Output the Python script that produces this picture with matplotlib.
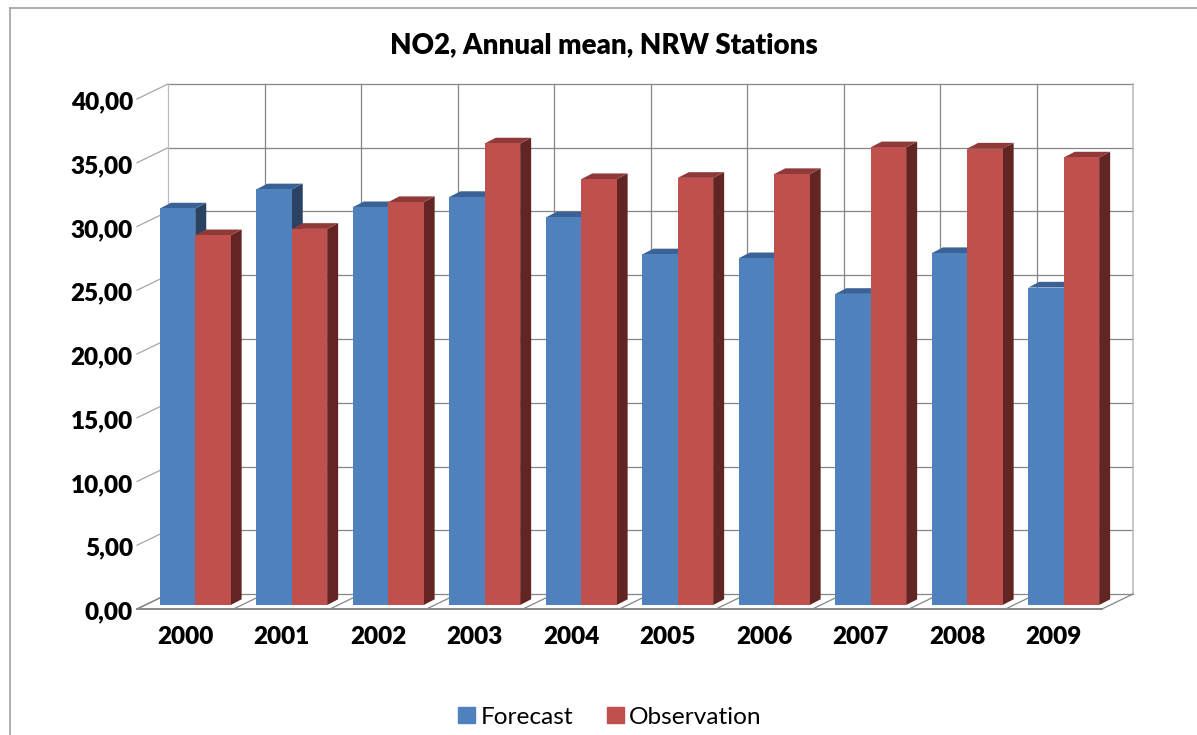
import matplotlib
matplotlib.use("Agg")
import matplotlib.pyplot as plt
from matplotlib.patches import Polygon, Patch
from matplotlib.lines import Line2D
from matplotlib.transforms import Affine2D

years = ["2000", "2001", "2002", "2003", "2004", "2005", "2006", "2007", "2008", "2009"]
forecast = [31.1, 32.6, 31.2, 32.0, 30.4, 27.5, 27.2, 24.4, 27.6, 24.9]
observation = [29.0, 29.5, 31.6, 36.2, 33.4, 33.5, 33.8, 35.9, 35.8, 35.1]
yticks = [0, 5, 10, 15, 20, 25, 30, 35, 40]
ylabels = ["0,00", "5,00", "10,00", "15,00", "20,00", "25,00", "30,00", "35,00", "40,00"]

W, H = 1197, 735
plt.rcParams['font.family'] = ['Lato', 'DejaVu Sans']
fig = plt.figure(figsize=(W / 100, H / 100), dpi=100)

# front floor plane in pixels
L, R, B, T = 137.0, 1102.0, 609.0, 99.0
ax = fig.add_axes([L / W, 1 - B / H, (R - L) / W, (B - T) / H])
ax.set_xlim(-0.5, 9.5)
ax.set_ylim(0, 40)
for s in ax.spines.values():
    s.set_visible(False)
ax.patch.set_visible(False)

px = 10 / (R - L)       # category units per pixel
py = 40 / (B - T)       # value units per pixel
wall_dx, wall_dy = 31 * px, 15 * py
bar_dx, bar_lift = 10.0 * px, 4 * py
depth_dx, depth_dy = 11 * px, 5.7 * py
bar_w = 35.4 * px

GRID = "#868686"
LIGHT = "#BDBDBD"

# back wall and floor
x_edges = [i - 0.5 for i in range(11)]
for y in yticks:
    ax.plot([-0.5, -0.5 + wall_dx], [y, y + wall_dy], color=GRID if y == 0 else "#A6A6A6", lw=0.9, clip_on=False, zorder=1)
    ax.plot([-0.5 + wall_dx, 9.5 + wall_dx], [y + wall_dy, y + wall_dy], color=GRID, lw=0.9, clip_on=False, zorder=1)
for x in x_edges:
    ax.plot([x + wall_dx, x + wall_dx], [wall_dy, 40 + wall_dy],
            color=LIGHT if x in (-0.5, 9.5) else GRID, lw=1.2 if x == 9.5 else 0.9, clip_on=False, zorder=1)
    ax.plot([x, x + wall_dx], [0, wall_dy], color=GRID, lw=0.9, clip_on=False, zorder=1)
ax.plot([-0.5, 9.5], [0, 0], color=GRID, lw=1.4, clip_on=False, zorder=1)


def draw_bar(x0, v, face, side, top, z):
    x1 = x0 + bar_w
    y0, y1 = bar_lift, v + bar_lift
    ax.bar(x0, v, width=bar_w, bottom=y0, align="edge", color=face, lw=0, zorder=z + 0.3, clip_on=False)
    ax.add_patch(Polygon([(x1, y0), (x1 + depth_dx, y0 + depth_dy), (x1 + depth_dx, y1 + depth_dy), (x1, y1)],
                         closed=True, fc=side, ec="none", zorder=z + 0.1, clip_on=False))
    ax.add_patch(Polygon([(x0, y1), (x1, y1), (x1 + depth_dx, y1 + depth_dy), (x0 + depth_dx, y1 + depth_dy)],
                         closed=True, fc=top, ec="none", zorder=z + 0.2, clip_on=False))


for i, (f, o) in enumerate(zip(forecast, observation)):
    left = i - bar_w + bar_dx
    draw_bar(left, f, "#4F81BD", "#2A4365", "#3A6296", 2 + i)
    draw_bar(left + bar_w, o, "#C0504D", "#632523", "#8F3A38", 2.5 + i)

ax.set_xticks(range(10))
ax.set_xticklabels(years)
ax.set_yticks(yticks)
ax.set_yticklabels(ylabels)
ax.tick_params(axis="both", length=0, labelsize=17.5)
ax.tick_params(axis="x", pad=12)
ax.tick_params(axis="y", pad=3)
for lab in ax.get_xticklabels() + ax.get_yticklabels():
    lab.set_fontweight("heavy")
    lab.set_color("black")
for lab in ax.get_yticklabels():
    lab.set_transform(lab.get_transform() + Affine2D().translate(0, -1.5))

fig.text(604 / W, 1 - 45 / H, "NO2, Annual mean, NRW Stations", ha="center", va="center",
         fontsize=19.9, fontweight="heavy", color="black")

# chart-area border
fig.add_artist(Line2D([10 / W, 10 / W], [0, 1 - 7.5 / H], color="#A0A0A0", lw=1.2))
fig.add_artist(Line2D([10 / W, 1], [1 - 7.5 / H, 1 - 7.5 / H], color="#A0A0A0", lw=1.2))

handles = [Patch(color="#4F81BD", label="Forecast"), Patch(color="#C0504D", label="Observation")]
fig.legend(handles=handles, loc="center", bbox_to_anchor=(610 / W, 1 - 717 / H), ncol=2, frameon=False,
           fontsize=17.6, handlelength=0.68, handleheight=0.68, handletextpad=0.22, columnspacing=1.4,
           borderpad=0, labelcolor="black")

fig.savefig("out.png", dpi=100, facecolor="white")
